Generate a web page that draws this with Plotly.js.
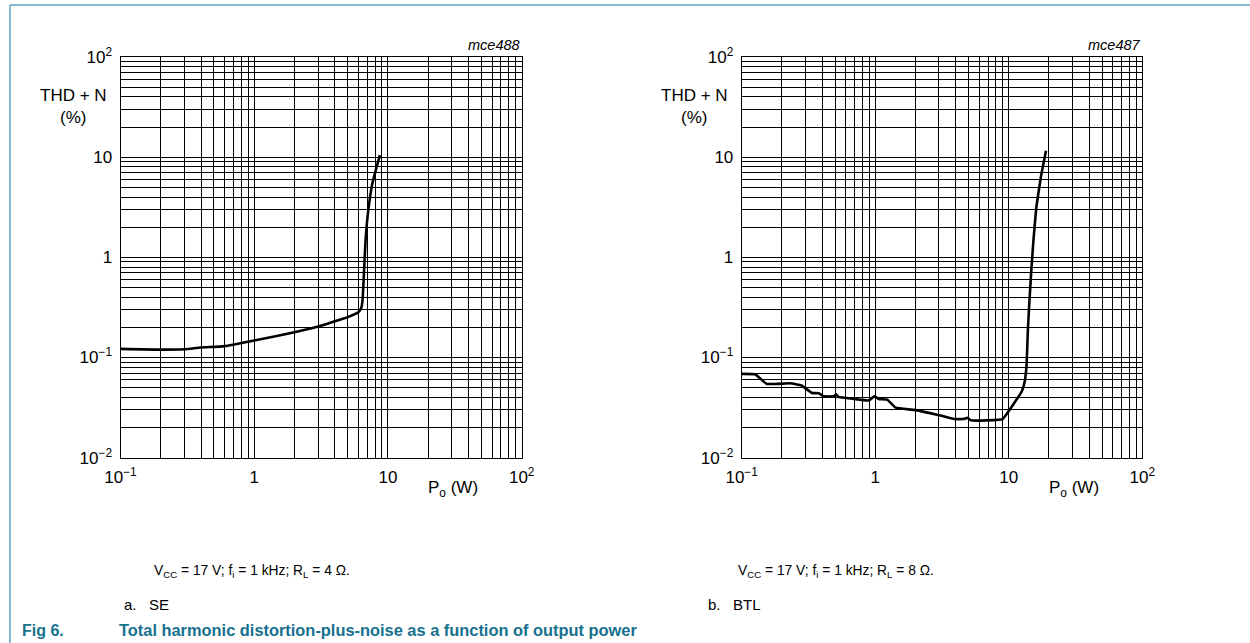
<!DOCTYPE html>
<html>
<head>
<meta charset="utf-8">
<script src="https://cdn.plot.ly/plotly-3.0.1.min.js"></script>
<style>html,body{margin:0;padding:0;background:#fff;}#chart{width:1250px;height:643px;}</style>
</head>
<body>
<div id="chart"></div>
<script>
// ---- data ----
const seX = [0.1, 0.2, 0.3, 0.4, 0.6, 1, 2, 3, 4, 5, 6, 6.3, 6.45, 6.61, 6.8, 7.08, 7.64, 8.7];
const seY = [0.122, 0.12, 0.121, 0.126, 0.13, 0.148, 0.179, 0.204, 0.23, 0.253, 0.283, 0.31, 0.37, 0.687, 1.48, 2.73, 5.45, 10.5];

const btlX = [0.1, 0.126, 0.154, 0.23, 0.28, 0.336, 0.377, 0.41, 0.49, 0.51, 0.53, 0.69, 0.89, 0.99, 1.06, 1.23, 1.42, 1.95, 2.9, 3.9, 4.6, 4.9, 5.2, 6.9, 9.0, 10.3, 12.6, 13.2, 13.6, 13.9, 14.2, 14.7, 15.3, 16.1, 17.4, 19];
const btlY = [0.0687, 0.068, 0.0545, 0.0553, 0.0525, 0.0443, 0.044, 0.041, 0.041, 0.043, 0.0405, 0.0386, 0.0372, 0.041, 0.0386, 0.038, 0.0316, 0.030, 0.0269, 0.0243, 0.0243, 0.025, 0.0236, 0.0236, 0.0243, 0.031, 0.0468, 0.059, 0.085, 0.186, 0.32, 0.687, 1.48, 3.18, 6.36, 11.6];

const xTickVals = [0.1, 1, 10, 100];
const xTickText = ['10<sup>\u22121</sup>', '1', '10', '10<sup>2</sup>'];
const yTickVals = [0.01, 0.1, 1, 10, 100];
const yTickText = ['10<sup>\u22122</sup>', '10<sup>\u22121</sup>', '1', '10', '10<sup>2</sup>'];

const figCodes = ['mce488', 'mce487'];
const conditions = ['V<sub>CC</sub> = 17 V; f<sub>i</sub> = 1 kHz; R<sub>L</sub> = 4 \u03A9.',
                    'V<sub>CC</sub> = 17 V; f<sub>i</sub> = 1 kHz; R<sub>L</sub> = 8 \u03A9.'];
const subLabels = ['a.&nbsp;&nbsp;&nbsp;SE', 'b.&nbsp;&nbsp;&nbsp;BTL'];
const yTitle = 'THD + N<br>(%)';
const xTitle = 'P<sub>o</sub> (W)';
const figNum = 'Fig 6.';
const figTitle = 'Total harmonic distortion-plus-noise as a function of output power';

// ---- layout helpers ----
const W = 1250, H = 643;
const px = v => v / W;
const py = v => 1 - v / H;
const FONT = 'Liberation Sans, Arial, sans-serif';
const teal = '#16718f';
const TICK = 17;

function xAxis(domain) {
  return {
    type: 'log', range: [-1, 2], domain: domain,
    tickmode: 'array', tickvals: xTickVals, ticktext: xTickText,
    showgrid: true, gridcolor: '#000', gridwidth: 1,
    minor: {tickmode: 'linear', dtick: 'D1', showgrid: true, gridcolor: '#000', gridwidth: 1, ticks: ''},
    showline: true, mirror: true, linecolor: '#000', linewidth: 1,
    ticks: '', zeroline: false, fixedrange: true, ticklabelstandoff: 4,
    tickfont: {family: FONT, size: TICK, color: '#000'}
  };
}
function yAxis(domain, anchor) {
  return {
    type: 'log', range: [-2, 2], domain: domain, anchor: anchor,
    tickmode: 'array', tickvals: yTickVals, ticktext: yTickText,
    showgrid: true, gridcolor: '#000', gridwidth: 1,
    minor: {tickmode: 'linear', dtick: 'D1', showgrid: true, gridcolor: '#000', gridwidth: 1, ticks: ''},
    showline: true, mirror: true, linecolor: '#000', linewidth: 1,
    ticks: '', zeroline: false, fixedrange: true, ticklabelstandoff: 4,
    tickfont: {family: FONT, size: TICK, color: '#000'}
  };
}

const yDom = [py(457.7), py(57)];

const traces = [
  {x: seX, y: seY, xaxis: 'x', yaxis: 'y', mode: 'lines',
   line: {color: '#000', width: 2.6, shape: 'spline', smoothing: 0.5}, hoverinfo: 'skip'},
  {x: btlX, y: btlY, xaxis: 'x2', yaxis: 'y2', mode: 'lines',
   line: {color: '#000', width: 2.6, shape: 'spline', smoothing: 0.3}, hoverinfo: 'skip'}
];

function ann(text, x, y, opts) {
  return Object.assign({text: text, x: px(x), y: py(y), xref: 'paper', yref: 'paper',
    xanchor: 'center', yanchor: 'middle',
    showarrow: false, font: {family: FONT, size: 14, color: '#000'}}, opts || {});
}

const annotations = [
  ann(yTitle, 73, 106, {align: 'center', font: {family: FONT, size: 17, color: '#000'}}),
  ann(yTitle, 694, 106, {align: 'center', font: {family: FONT, size: 17, color: '#000'}}),
  ann(figCodes[0], 522, 45, {xanchor: 'right', font: {family: FONT, size: 14.5, color: '#000', style: 'italic'}}),
  ann(figCodes[1], 1143, 45, {xanchor: 'right', font: {family: FONT, size: 14.5, color: '#000', style: 'italic'}}),
  ann(xTitle, 453, 489, {font: {family: FONT, size: 17, color: '#000'}}),
  ann(xTitle, 1074, 489, {font: {family: FONT, size: 17, color: '#000'}}),
  ann(conditions[0], 152, 571, {xanchor: 'left', font: {family: FONT, size: 13.8, color: '#000'}}),
  ann(conditions[1], 736, 571, {xanchor: 'left', font: {family: FONT, size: 13.8, color: '#000'}}),
  ann(subLabels[0], 122, 604, {xanchor: 'left', font: {family: FONT, size: 15, color: '#000'}}),
  ann(subLabels[1], 706, 604, {xanchor: 'left', font: {family: FONT, size: 15, color: '#000'}}),
  ann('<b>' + figNum + '</b>', 20, 630, {xanchor: 'left', font: {family: FONT, size: 16, color: teal}}),
  ann('<b>' + figTitle + '</b>', 117, 630, {xanchor: 'left', font: {family: FONT, size: 16.4, color: teal}})
];

const shapes = [
  {type: 'line', xref: 'paper', yref: 'paper', x0: px(10), x1: 1, y0: py(5), y1: py(5), line: {color: '#5fa7bf', width: 1.5}},
  {type: 'line', xref: 'paper', yref: 'paper', x0: px(10), x1: px(10), y0: py(5), y1: 0, line: {color: '#5fa7bf', width: 1.5}}
];

const layout = {
  width: W, height: H,
  margin: {l: 0, r: 0, t: 0, b: 0},
  paper_bgcolor: '#fff', plot_bgcolor: '#fff',
  showlegend: false,
  xaxis: Object.assign(xAxis([px(120.5), px(521.7)]), {anchor: 'y'}),
  yaxis: yAxis(yDom, 'x'),
  xaxis2: Object.assign(xAxis([px(741.7), px(1142.3)]), {anchor: 'y2'}),
  yaxis2: yAxis(yDom, 'x2'),
  annotations: annotations,
  shapes: shapes,
  font: {family: FONT}
};

Plotly.newPlot('chart', traces, layout, {displayModeBar: false, staticPlot: true});
</script>
</body>
</html>
